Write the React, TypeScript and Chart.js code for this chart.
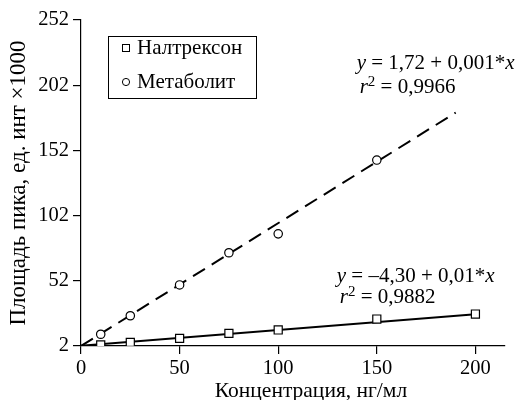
import React, { useEffect, useRef } from 'react';
import { Chart, registerables } from 'chart.js';
Chart.register(...registerables);

const concNaltrexone = [10, 25, 50, 75, 100, 150, 200];
const areaNaltrexone = [2.8, 4.8, 7.9, 11.7, 14.3, 22.7, 26.5];
const concMetabolite = [10, 25, 50, 75, 100, 150];
const areaMetabolite = [11, 25.2, 48.8, 73.5, 88, 144.6];
const fitNaltrexoneX = [0, 200];
const fitNaltrexoneY = [2.2, 26.3];
const fitMetaboliteX = [0, 190];
const fitMetaboliteY = [2, 181];
const xTicks = [0, 50, 100, 150, 200];
const yTicks = [2, 52, 102, 152, 202, 252];
const seriesNames = ['Налтрексон', 'Метаболит'];
const xTitle = 'Концентрация, нг/мл';
const yTitle = 'Площадь пика, ед. инт ×1000';

type Seg = { t: string; i?: boolean; sup?: boolean };
const eqMetabolite: Seg[] = [{ t: 'y', i: true }, { t: ' = 1,72 + 0,001*' }, { t: 'x', i: true }];
const r2Metabolite: Seg[] = [{ t: 'r', i: true }, { t: '2', sup: true }, { t: ' = 0,9966' }];
const eqNaltrexone: Seg[] = [{ t: 'y', i: true }, { t: ' = –4,30 + 0,01*' }, { t: 'x', i: true }];
const r2Naltrexone: Seg[] = [{ t: 'r', i: true }, { t: '2', sup: true }, { t: ' = 0,9882' }];
// annotation anchors in data units [x, y]
const annotations: { seg: Seg[]; at: [number, number] }[] = [
  { seg: eqMetabolite, at: [139.8, 219] },
  { seg: r2Metabolite, at: [141.3, 200] },
  { seg: eqNaltrexone, at: [129.7, 55] },
  { seg: r2Naltrexone, at: [131.2, 39] },
];

const FONT = "'Liberation Serif', 'Times New Roman', serif";
const FS = 21;
const FS_TICK = 20.5;

const toPts = (xs: number[], ys: number[]) => xs.map((x, i) => ({ x, y: ys[i] }));

function drawSegs(ctx: CanvasRenderingContext2D, segs: Seg[], x: number, y: number) {
  let cx = x;
  for (const s of segs) {
    if (s.sup) {
      ctx.font = `${Math.round(FS * 0.7)}px ${FONT}`;
      ctx.fillText(s.t, cx, y - 6);
    } else {
      ctx.font = `${s.i ? 'italic ' : ''}${FS}px ${FONT}`;
      ctx.fillText(s.t, cx, y);
    }
    cx += ctx.measureText(s.t).width;
  }
}

const overlay = {
  id: 'overlay',
  afterDraw(chart: any) {
    const ctx: CanvasRenderingContext2D = chart.ctx;
    const xs = chart.scales.x;
    const ys = chart.scales.y;
    const ca = chart.chartArea;
    ctx.save();
    ctx.fillStyle = '#000';
    ctx.textBaseline = 'middle';
    ctx.textAlign = 'left';
    for (const a of annotations) {
      drawSegs(ctx, a.seg, xs.getPixelForValue(a.at[0]), ys.getPixelForValue(a.at[1]));
    }
    // x axis title (offset right of centre, as in the original figure)
    ctx.font = `21.5px ${FONT}`;
    ctx.textAlign = 'center';
    ctx.textBaseline = 'alphabetic';
    ctx.fillText(xTitle, ca.left + 230, ca.bottom + 51);
    // legend
    ctx.textAlign = 'left';
    ctx.textBaseline = 'middle';
    const bx = ca.left + 27;
    const by = ca.top + 16;
    const bw = 148;
    const bh = 62;
    ctx.strokeStyle = '#000';
    ctx.lineWidth = 1;
    ctx.strokeRect(bx + 0.5, by + 0.5, bw, bh);
    ctx.font = `${FS}px ${FONT}`;
    const rows = [by + 12, by + 46];
    ctx.strokeRect(bx + 14.5, rows[0] - 3.5, 7, 7);
    ctx.beginPath();
    ctx.arc(bx + 18, rows[1], 3.6, 0, Math.PI * 2);
    ctx.stroke();
    ctx.fillText(seriesNames[0], bx + 29, rows[0]);
    ctx.fillText(seriesNames[1], bx + 29, rows[1]);
    ctx.restore();
  },
};

export default function App() {
  const ref = useRef<HTMLCanvasElement>(null);
  useEffect(() => {
    document.body.style.margin = '0';
    const chart = new Chart(ref.current!, {
      type: 'scatter',
      data: {
        datasets: [
          {
            label: seriesNames[0],
            data: toPts(concNaltrexone, areaNaltrexone),
            pointStyle: 'rect',
            pointRadius: 5.7,
            pointBackgroundColor: '#fff',
            pointBorderColor: '#000',
            pointBorderWidth: 1.2,
            showLine: false,
            order: 0,
          },
          {
            label: seriesNames[1],
            data: toPts(concMetabolite, areaMetabolite),
            pointStyle: 'circle',
            pointRadius: 4.2,
            pointBackgroundColor: '#fff',
            pointBorderColor: '#000',
            pointBorderWidth: 1.2,
            showLine: false,
            order: 0,
          },
          {
            label: 'fitN',
            data: toPts(fitNaltrexoneX, fitNaltrexoneY),
            showLine: true,
            pointRadius: 0,
            borderColor: '#000',
            borderWidth: 2,
            order: 1,
          },
          {
            label: 'fitM',
            data: toPts(fitMetaboliteX, fitMetaboliteY),
            showLine: true,
            pointRadius: 0,
            borderColor: '#000',
            borderWidth: 2,
            borderDash: [14, 8],
            order: 1,
          },
        ],
      },
      options: {
        responsive: false,
        animation: false,
        layout: { padding: { top: 20, right: 15, left: 0, bottom: 0 } },
        plugins: { legend: { display: false }, tooltip: { enabled: false } },
        scales: {
          x: {
            type: 'linear',
            min: 0,
            max: 215,
            afterBuildTicks: (s: any) => {
              s.ticks = xTicks.map((v) => ({ value: v }));
            },
            afterFit: (s: any) => {
              s.height = 54;
            },
            grid: { drawOnChartArea: false, drawTicks: true, tickLength: 8, color: '#000', lineWidth: 1.2 },
            border: { color: '#000', width: 1.2 },
            ticks: { color: '#000', font: { family: FONT, size: FS_TICK }, padding: 2, maxRotation: 0, autoSkip: false },
            title: { display: false },
          },
          y: {
            type: 'linear',
            min: 2,
            max: 252,
            afterBuildTicks: (s: any) => {
              s.ticks = yTicks.map((v) => ({ value: v }));
            },
            afterFit: (s: any) => {
              s.width = 81;
            },
            grid: { drawOnChartArea: false, drawTicks: true, tickLength: 8, color: '#000', lineWidth: 1.2 },
            border: { color: '#000', width: 1.2 },
            ticks: { color: '#000', font: { family: FONT, size: FS_TICK }, padding: 4, autoSkip: false },
            title: {
              display: true,
              text: yTitle,
              color: '#000',
              font: { family: FONT, size: 23, lineHeight: 1.2 },
              padding: { top: 5, bottom: 0 },
            },
          },
        },
      },
      plugins: [overlay],
    } as any);
    return () => chart.destroy();
  }, []);
  return (
    <div style={{ position: 'absolute', left: 0, top: 0, width: 520, height: 400 }}>
      <canvas ref={ref} width={520} height={400} />
    </div>
  );
}
